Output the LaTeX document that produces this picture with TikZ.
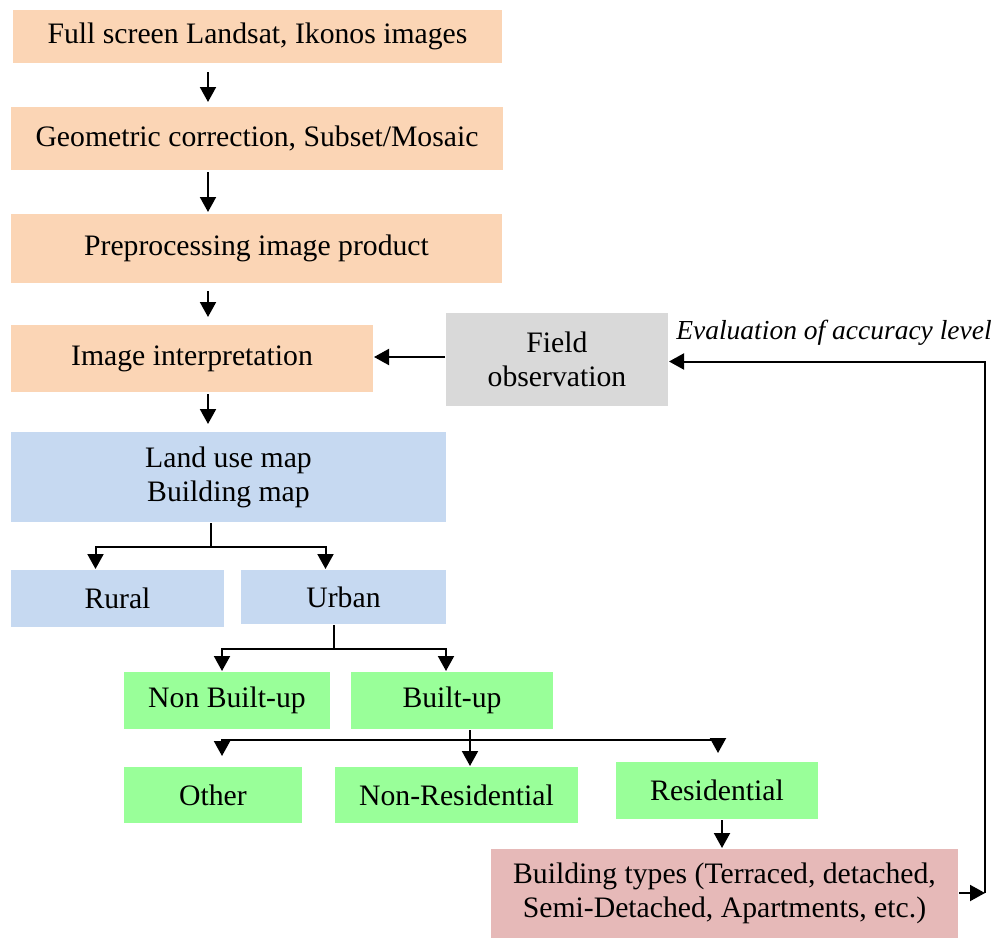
\documentclass[tikz,border=0pt]{standalone}
\usepackage{fontspec}
\setmainfont{Liberation Serif}
\usetikzlibrary{arrows.meta}
\definecolor{peach}{HTML}{FBD5B5}
\definecolor{paleblue}{HTML}{C6D9F1}
\definecolor{palegreen}{HTML}{99FF99}
\definecolor{palegray}{HTML}{D9D9D9}
\definecolor{palepink}{HTML}{E6B9B8}
\begin{document}
\begin{tikzpicture}[
            x = 1pt, y = -1pt, % pixel like units, y goes down
            > = {Triangle[length=15pt,width=16pt]}, % arrow head style
            line width = 2pt, % line style
            box/.style = {rectangle, inner sep=0pt, align=center,
                          font=\fontsize{29.7}{34}\selectfont}
        ]
\useasboundingbox (0,0) rectangle (994,940);

\node[box,fill=peach,minimum width=489pt,minimum height=53pt] (F) at (257.5,36.5) {Full screen Landsat, Ikonos images};
\node[box,fill=peach,minimum width=492pt,minimum height=63pt] (G) at (257,138.5) {Geometric correction, Subset/Mosaic};
\node[box,fill=peach,minimum width=491pt,minimum height=69pt] (P) at (256.5,248.5) {Preprocessing image product};
\node[box,fill=peach,minimum width=362pt,minimum height=67pt] (I) at (192,358.5) {Image interpretation};
\node[box,fill=palegray,minimum width=222pt,minimum height=93pt] (O) at (557,359.5) {Field\\observation};
\node[box,font=\fontsize{27.5}{32}\selectfont\itshape] (E) at (834,333) {Evaluation of accuracy level};

\node[box,fill=paleblue,minimum width=435pt,minimum height=90pt] (L) at (228.5,477) {Land use map\\Building map};
\node[box,fill=paleblue,minimum width=213pt,minimum height=57pt] (R) at (117.5,598.5) {Rural};
\node[box,fill=paleblue,minimum width=205pt,minimum height=54pt] (U) at (343.5,597) {Urban};

\node[box,fill=palegreen,minimum width=206pt,minimum height=57pt] (N) at (227,700.5) {Non Built-up};
\node[box,fill=palegreen,minimum width=202pt,minimum height=57pt] (B) at (452,700.5) {Built-up};
\node[box,fill=palegreen,minimum width=178pt,minimum height=56pt] (T) at (213,795) {Other};
\node[box,fill=palegreen,minimum width=243pt,minimum height=56pt] (NR) at (456.5,795) {Non-Residential};
\node[box,fill=palegreen,minimum width=202pt,minimum height=57pt] (RS) at (717,790.5) {Residential};
\node[box,fill=palepink,minimum width=467pt,minimum height=89pt] (BT) at (724.5,893.5) {Building types (Terraced, detached,\\Semi-Detached, Apartments, etc.)};

% main column
\coordinate (c) at (208,0);
\draw[->] ([yshift=-8pt]F.south -| c) -- ([yshift=4pt]G.north -| c);
\draw[->] ([yshift=-1pt]G.south -| c) -- ([yshift=1pt]P.north -| c);
\draw[->] ([yshift=-7pt]P.south -| c) -- ([yshift=7pt]I.north -| c);
\draw[->] ([yshift=-1pt]I.south -| c) -- ([yshift=7pt]L.north -| c);
\draw[->] (O.west |- 0,357) -- (I.east |- 0,357);

% branches
\draw ([xshift=-18pt]L.south) -- ++(0,24) coordinate (l1);
\draw[->] (l1) -| ([xshift=-22pt]R.north);
\draw[->] (l1) -| ([xshift=-18pt]U.north);
\draw ([xshift=-10pt]U.south) -- ++(0,24) coordinate (u1);
\draw[->] (u1) -| ([xshift=-5pt]N.north);
\draw[->] (u1) -| ([xshift=-6pt]B.north);
\draw ([xshift=18pt]B.south) -- ++(0,10) coordinate (b1);
\draw[->] (b1) -| ([xshift=9pt,yshift=10pt]T.north);
\draw[->] (b1) -- (b1 |- NR.north);
\draw[->] (b1) -| ([xshift=1pt,yshift=8pt]RS.north);
\draw[->] ([xshift=5pt]RS.south) -- ([xshift=-2.5pt]BT.north);

% feedback loop
\coordinate (k) at (985,893);
\draw[->] (BT.east |- k) -- (k);
\draw[->] (k) |- ([yshift=-2pt]O.east);
\end{tikzpicture}
\end{document}
